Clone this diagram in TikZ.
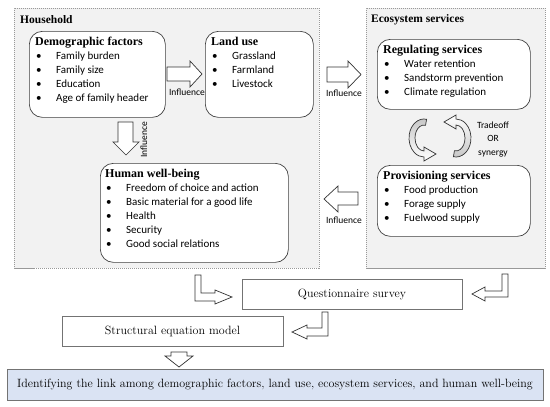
\documentclass[tikz,border=0pt]{standalone}
\usepackage{fontspec}
\newfontfamily\headfont{Liberation Serif}
\newfontfamily\calib{Carlito}
\usetikzlibrary{
  calc,          % points on the cycle arcs
  positioning
}

\definecolor{identblue}{RGB}{218,227,243}

% one bullet line inside a rounded box
\newcommand{\itm}[1]{\hspace*{1pt}\makebox[20pt][l]{\textbullet}#1}
% bold serif heading of a rounded box
\newcommand{\ttl}[1]{{\headfont\bfseries\fontsize{12}{14}\selectfont #1}}

\tikzset{
  grp/.style={draw=gray!80, dash pattern=on 1.2pt off 0.8pt, fill=gray!10,
    line width=0.6pt, inner sep=0pt},
  grplabel/.style={anchor=west, inner sep=0pt,
    font=\headfont\bfseries\fontsize{11.5}{14}\selectfont},
  rbox/.style={draw=black!75, fill=white, rounded corners=13pt, line width=0.7pt,
    inner sep=0pt},
  btext/.style={anchor=north west, inner sep=0pt, align=left,
    font=\calib\fontsize{11}{14}\selectfont},
  flowbox/.style={draw=black!55, fill=white, line width=0.6pt, inner sep=0pt,
    font=\fontsize{12}{14}\selectfont},
  infl/.style={inner sep=0pt, font=\calib\fontsize{9.5}{10}\selectfont},
  barrow/.style={draw=black!80, fill=white, line width=0.7pt, line join=miter},
  cyc/.style={draw=black!80, line width=0.7pt, line join=miter},
}

\begin{document}
\begin{tikzpicture}[x=1pt, y=-1pt]
  \useasboundingbox (0,0) rectangle (550,407);

  % =========== Household ===========
  \node[grp, anchor=north west, minimum width=305pt, minimum height=260pt]
    (household) at (14,8) {};
  \node[grplabel] (householdlabel) at (20,20) {Household};

  \node[rbox, anchor=north west, minimum width=136pt, minimum height=86pt]
    (demo) at (29,31) {};
  \node[btext] (demotext) at (35,37) {\ttl{Demographic factors}\\
    \itm{Family burden}\\ \itm{Family size}\\ \itm{Education}\\
    \itm{Age of family header}};

  \node[rbox, anchor=north west, minimum width=108pt, minimum height=86pt]
    (land) at (205,31) {};
  \node[btext] (landtext) at (211,37) {\ttl{Land use}\\
    \itm{Grassland}\\ \itm{Farmland}\\ \itm{Livestock}};

  \node[rbox, anchor=north west, minimum width=188pt, minimum height=99pt]
    (human) at (100,163) {};
  \node[btext] (humantext) at (105,169) {\ttl{Human well-being}\\
    \itm{Freedom of choice and action}\\ \itm{Basic material for a good life}\\
    \itm{Health}\\ \itm{Security}\\ \itm{Good social relations}};

  % =========== Ecosystem services ===========
  \node[grp, anchor=north west, minimum width=179pt, minimum height=260pt]
    (eco) at (366,8) {};
  \node[grplabel] (ecolabel) at (371,20) {Ecosystem services};

  \node[rbox, anchor=north west, minimum width=153pt, minimum height=70pt]
    (reg) at (377,39) {};
  \node[btext] (regtext) at (383,45) {\ttl{Regulating services}\\
    \itm{Water retention}\\ \itm{Sandstorm prevention}\\ \itm{Climate regulation}};

  \node[rbox, anchor=north west, minimum width=153pt, minimum height=71pt]
    (prov) at (377,165) {};
  \node[btext] (provtext) at (383,171) {\ttl{Provisioning services}\\
    \itm{Food production}\\ \itm{Forage supply}\\ \itm{Fuelwood supply}};

  % tradeoff / synergy cycle
  \shade[cyc, top color=gray!45, bottom color=white]
    ($(424,138)+(-80:15 and 19)$)
      arc[start angle=-80, end angle=-270, x radius=15, y radius=19]
      -- (424,161) -- (436,154) -- (424,147) -- (424,151)
      arc[start angle=-270, end angle=-80, x radius=9, y radius=13] -- cycle;
  \shade[cyc, top color=white, bottom color=gray!45]
    ($(456,138)+(100:15 and 19)$)
      arc[start angle=100, end angle=-90, x radius=15, y radius=19]
      -- (456,115) -- (444,122) -- (456,129) -- (456,125)
      arc[start angle=-90, end angle=100, x radius=9, y radius=13] -- cycle;
  \node[align=center, inner sep=0pt, font=\calib\fontsize{9.5}{13.5}\selectfont]
    (trade) at (493,139.5) {Tradeoff\\OR\\synergy};

  % =========== Influence arrows ===========
  % demographic factors -> land use
  \draw[barrow] (167,67) -- (190,67) -- (190,61) -- (202,74) -- (190,87)
    -- (190,81) -- (167,81) -- cycle;
  \node[infl] (a1label) at (187,92) {Influence};
  % land use -> ecosystem services
  \draw[barrow] (327,67) -- (348,67) -- (348,61) -- (361,74.5) -- (348,88)
    -- (348,82) -- (327,82) -- cycle;
  \node[infl] (a2label) at (344,93) {Influence};
  % ecosystem services -> human well-being
  \draw[barrow] (358,192) -- (338,192) -- (338,186) -- (324,199) -- (338,212)
    -- (338,205) -- (358,205) -- cycle;
  \node[infl] (a3label) at (344,220) {Influence};
  % demographic factors -> human well-being
  \draw[barrow] (118,122) -- (133,122) -- (133,142) -- (139,142) -- (126,155)
    -- (113,142) -- (118,142) -- cycle;
  \node[infl, rotate=90] (a4label) at (144,140) {Influence};

  % =========== Analysis ===========
  \node[flowbox, minimum width=220pt, minimum height=30pt] (quest) at (352,294)
    {Questionnaire survey};
  \node[flowbox, minimum width=221pt, minimum height=30pt] (sem) at (172.5,331)
    {Structural equation model};
  \node[flowbox, fill=identblue, minimum width=536pt, minimum height=31pt]
    (ident) at (275,384.5)
    {Identifying the link among demographic factors, land use, ecosystem services, and human well-being};

  % L-shaped arrows
  \draw[barrow] (195,275) -- (201,275) -- (201,293) -- (215,293) -- (215,290)
    -- (232,297) -- (215,304) -- (215,301) -- (195,301) -- cycle;
  \draw[barrow] (508,274) -- (502,274) -- (502,291) -- (485,291) -- (485,287)
    -- (472,294) -- (485,301) -- (485,297) -- (508,297) -- cycle;
  \draw[barrow] (328,312) -- (322,312) -- (322,328) -- (307,328) -- (307,325)
    -- (292,332) -- (307,339) -- (307,336) -- (328,336) -- cycle;
  % down to the result
  \draw[barrow] (171,352) -- (187,352) -- (187,356) -- (193,356) -- (179,367)
    -- (165,356) -- (171,356) -- cycle;

\end{tikzpicture}
\end{document}
